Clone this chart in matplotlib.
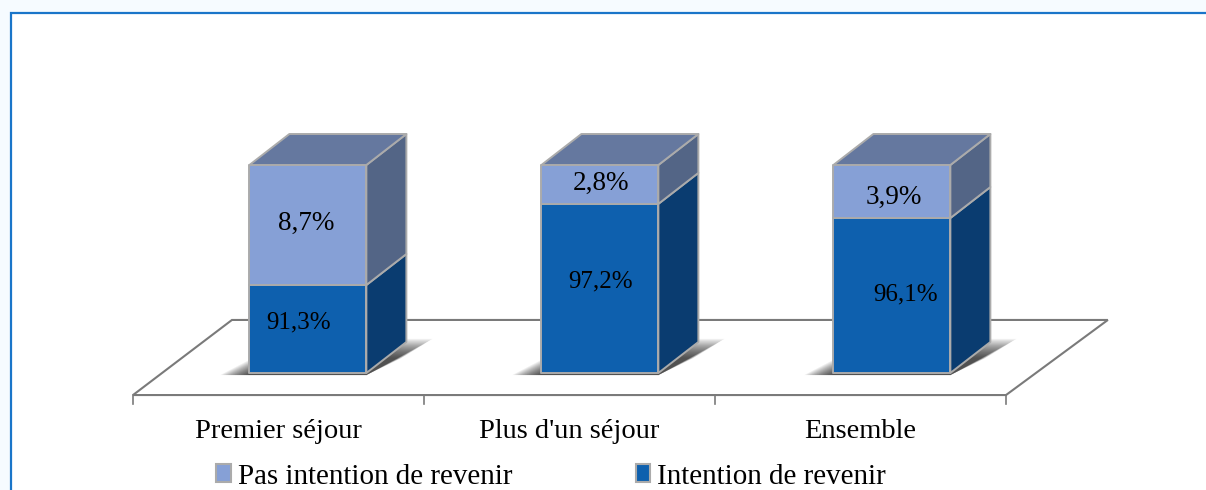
import matplotlib
matplotlib.use('Agg')
import matplotlib.pyplot as plt
from matplotlib.patches import Polygon, Rectangle

plt.rcParams['font.family'] = ['Liberation Serif', 'DejaVu Serif']

categories = ['Premier séjour', "Plus d'un séjour", 'Ensemble']
# hauteurs dessinées (part de la colonne)
intention_hauteur = [42.3, 81.3, 74.5]
pas_intention_hauteur = [57.7, 18.7, 25.5]
# les etiquettes ne correspondent pas aux hauteurs dans l'original
intention_labels = ['91,3%', '97,2%', '96,1%']
pas_intention_labels = ['8,7%', '2,8%', '3,9%']
series_names = ['Pas intention de revenir', 'Intention de revenir']

BLEU = '#0E60AE'
BLEU_COTE = '#0A3C70'
CLAIR = '#86A0D6'
CLAIR_COTE = '#536586'
DESSUS = '#65789F'
BORD = '#ABABAB'
GRIS = '#7A7A7A'

PX_X = 291.0   # pixels par categorie
PX_Y = 2.08    # pixels par point
DX = 40 / PX_X
DY = 31 / PX_Y

fig = plt.figure(figsize=(12.06, 4.9), dpi=100, facecolor='#F6FBFF')
ax = fig.add_axes([0, 0, 1, 1])
ax.set_xlim(-278.5 / PX_X, (1206 - 278.5) / PX_X)
ax.set_ylim((373 - 490) / PX_Y, 373 / PX_Y)
ax.axis('off')

# cadre
ax.add_patch(Rectangle((-0.919, -70), 5, 243.2, fc='white', ec='#1A75C9', lw=1.6, zorder=0))

# sol
sol = [(-0.5, -10.6), (-0.16, 25.5), (2.85, 25.5), (2.5, -10.6)]
ax.add_patch(Polygon(sol, closed=True, fc='white', ec=GRIS, lw=1.5, zorder=1))
for i in range(len(categories) + 1):
    ax.plot([i - 0.5, i - 0.5], [-10.6, -15], color=GRIS, lw=1.2, zorder=1)


def face(pts, color, z):
    ax.add_patch(Polygon(pts, closed=True, fc=color, ec=BORD, lw=1.4, joinstyle='round', zorder=z))


label_dx = [(-2, -9), (1, 1), (2, 14)]
label_dy = [(2, 7), (1, 7), (-6, 1)]

for i, cat in enumerate(categories):
    x0 = i * 292 / PX_X - 0.1
    x1 = x0 + 0.402
    h1 = intention_hauteur[i]
    h2 = h1 + pas_intention_hauteur[i]

    # ombre : polygones empiles pour le flou
    for k in range(16):
        gl = 0.1 * k / 16
        gr = 0.11 * k / 16
        ax.add_patch(Polygon([(x0 - 0.1 + gl, -1), (x1, -1),
                              (x1 + DX + 0.09 - gr, DY + 1.5 - k * 0.6),
                              (x0 + DX, DY + 1.5 - k * 0.6)],
                             closed=True, fc='black', ec='none', alpha=0.065, zorder=2))

    face([(x0, 0), (x1, 0), (x1, h1), (x0, h1)], BLEU, 3)
    face([(x0, h1), (x1, h1), (x1, h2), (x0, h2)], CLAIR, 3)
    face([(x1, 0), (x1 + DX, DY), (x1 + DX, h1 + DY), (x1, h1)], BLEU_COTE, 3)
    face([(x1, h1), (x1 + DX, h1 + DY), (x1 + DX, h2 + DY), (x1, h2)], CLAIR_COTE, 3)
    face([(x0, h2), (x1, h2), (x1 + DX, h2 + DY), (x0 + DX, h2 + DY)], DESSUS, 3)

    xm = (x0 + x1) / 2
    ax.annotate(pas_intention_labels[i], (xm, (h1 + h2) / 2), xytext=(label_dx[i][0], label_dy[i][0]),
                textcoords='offset pixels', ha='center', va='center', fontsize=19.5, color='black', zorder=5)
    ax.annotate(intention_labels[i], (xm, h1 / 2), xytext=(label_dx[i][1], label_dy[i][1]),
                textcoords='offset pixels', ha='center', va='center', fontsize=18, color='black', zorder=5)

    ax.text(i, -28.3, cat, ha='center', va='center', fontsize=20.5, color='black')

# legende
h = [Rectangle((0, 0), 1, 1, fc=CLAIR, ec=BORD, lw=1.5), Rectangle((0, 0), 1, 1, fc=BLEU, ec=BORD, lw=1.5)]
ax.legend(h, series_names, ncol=2, frameon=False, fontsize=20.9, loc='lower left',
          bbox_to_anchor=(216 / 1206, 0.001), handlelength=0.51, handleheight=0.58,
          handletextpad=0.24, columnspacing=4.25, borderpad=0, borderaxespad=0)

fig.savefig('out.png', dpi=100, facecolor=fig.get_facecolor())
